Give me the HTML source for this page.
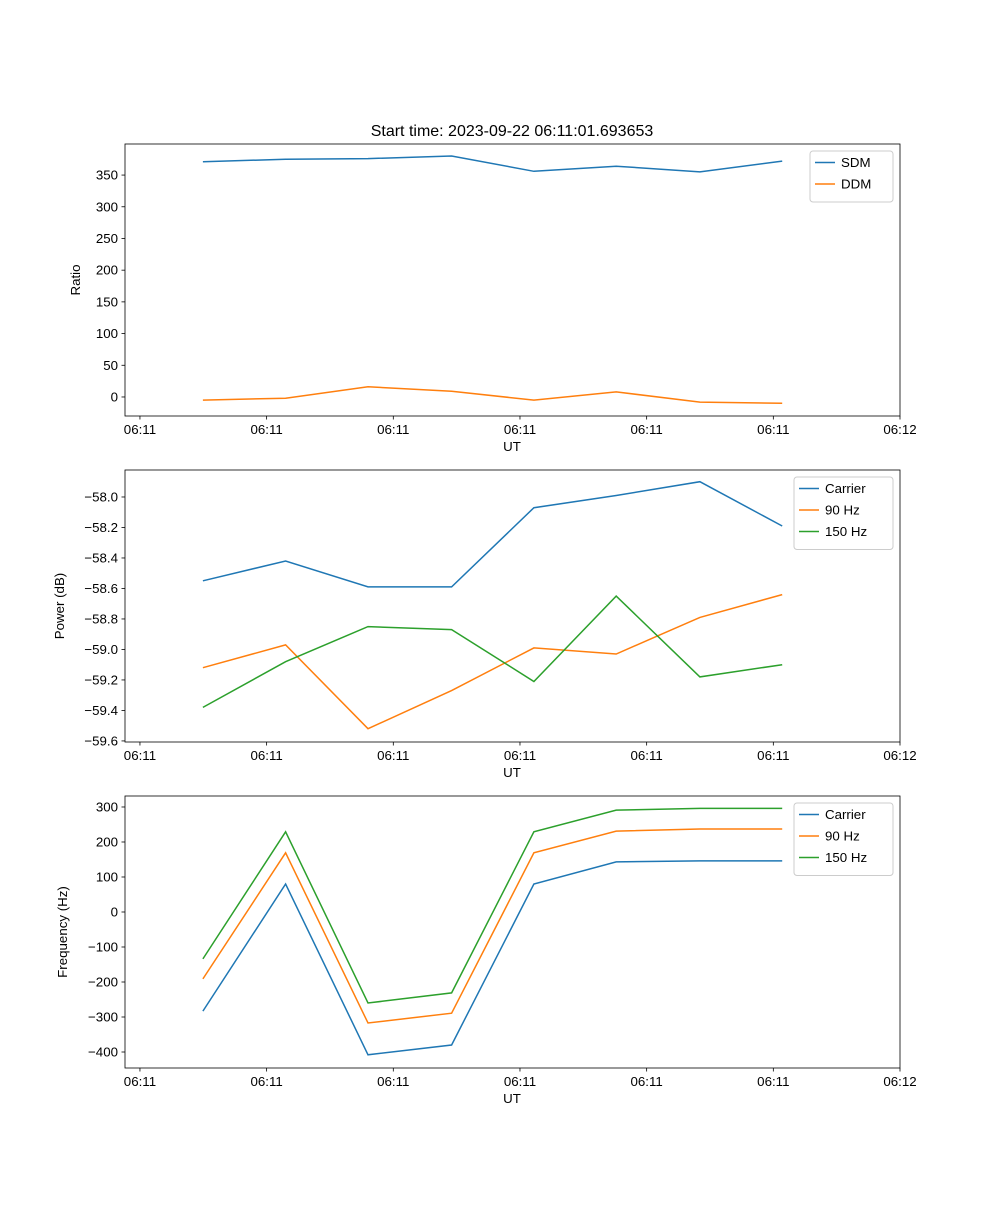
<!DOCTYPE html>
<html><head><meta charset="utf-8"><style>
body{margin:0;background:#fff;}
svg text{font-family:"Liberation Sans","DejaVu Sans",sans-serif;font-size:13.3px;fill:#000;}
</style></head><body>
<svg id="chart" width="1000" height="1200" xmlns="http://www.w3.org/2000/svg">
<text x="512" y="136" text-anchor="middle" style="font-size:16px">Start time: 2023-09-22 06:11:01.693653</text>
</svg>
<script>
const xTimes = [0.497, 1.15, 1.80, 2.46, 3.11, 3.76, 4.42, 5.07];
const xTickVals = [0, 1, 2, 3, 4, 5, 6];
const xTickLabels = ["06:11","06:11","06:11","06:11","06:11","06:11","06:12"];
const sdm = [371, 375, 376, 380, 356, 364, 355, 372];
const ddm = [-5, -2, 16, 9, -5, 8, -8, -10];
const pwrCarrier = [-58.55, -58.42, -58.59, -58.59, -58.07, -57.99, -57.90, -58.19];
const pwr90 = [-59.12, -58.97, -59.52, -59.27, -58.99, -59.03, -58.79, -58.64];
const pwr150 = [-59.38, -59.08, -58.85, -58.87, -59.21, -58.65, -59.18, -59.10];
const frqCarrier = [-283, 80, -408, -380, 80, 143, 146, 146];
const frq90 = [-191, 169, -317, -289, 169, 231, 237, 237];
const frq150 = [-134, 229, -260, -231, 229, 291, 296, 296];
const ratioTicks = [0, 50, 100, 150, 200, 250, 300, 350];
const powerTicks = [-59.6, -59.4, -59.2, -59.0, -58.8, -58.6, -58.4, -58.2, -58.0];
const freqTicks = [-400, -300, -200, -100, 0, 100, 200, 300];

const NS = "http://www.w3.org/2000/svg";
const svg = document.getElementById("chart");
const C = ["#1f77b4", "#ff7f0e", "#2ca02c"];
function mk(tag, attrs, parent) {
  const e = document.createElementNS(NS, tag);
  for (const k in attrs) e.setAttribute(k, attrs[k]);
  (parent || svg).appendChild(e);
  return e;
}
const X0 = 125, X1 = 900, XMIN = -0.118, XMAX = 6;
const xs = v => X0 + (v - XMIN) / (XMAX - XMIN) * (X1 - X0);

function panel(id, top, bottom, ymin, ymax, yticks, fmt, ylabel, ylabelX, series, names, legendX) {
  const g = mk("g", {});
  
  
  const ys = v => bottom - (v - ymin) / (ymax - ymin) * (bottom - top);
  series.forEach((s, i) => {
    const pts = s.map((v, j) => xs(xTimes[j]).toFixed(1) + "," + ys(v).toFixed(1)).join(" ");
    const p = mk("polyline", {points: pts, fill: "none", stroke: C[i], "stroke-width": 1.5}, g);
    
    
  });
  const fr = mk("rect", {x: X0, y: top, width: X1 - X0, height: bottom - top, fill: "none", stroke: "#000", "stroke-width": 0.8}, g);
  
  
  xTickVals.forEach((v, i) => {
    const x = xs(v);
    mk("line", {x1: x, x2: x, y1: bottom, y2: bottom + 3.5, stroke: "#000", "stroke-width": 0.8}, g);
    const t = mk("text", {x: x, y: bottom + 18, "text-anchor": "middle"}, g);
    t.textContent = xTickLabels[i];
    
    
  });
  const xl = mk("text", {x: 512, y: bottom + 35, "text-anchor": "middle"}, g);
  xl.textContent = "UT";
  
  
  yticks.forEach(v => {
    const y = ys(v);
    mk("line", {x1: X0 - 3.5, x2: X0, y1: y, y2: y, stroke: "#000", "stroke-width": 0.8}, g);
    const t = mk("text", {x: X0 - 7, y: y + 4.5, "text-anchor": "end"}, g);
    t.textContent = fmt(v);
    
    
  });
  const cy = (top + bottom) / 2;
  const yl = mk("text", {x: ylabelX, y: cy, "text-anchor": "middle", transform: "rotate(-90 " + ylabelX + " " + cy + ")"}, g);
  yl.textContent = ylabel;
  
  
  const lg = mk("g", {}, g);
  
  
  const lh = 8 + names.length * 21.5;
  mk("rect", {x: legendX, y: top + 7, width: 893 - legendX, height: lh, rx: 3, fill: "#fff", stroke: "#ccc", "stroke-width": 1}, lg);
  names.forEach((n, i) => {
    const y = top + 18.5 + i * 21.5;
    const e = mk("g", {}, lg);
    
    
    mk("line", {x1: legendX + 5, x2: legendX + 25, y1: y, y2: y, stroke: C[i], "stroke-width": 1.5}, e);
    const t = mk("text", {x: legendX + 31, y: y + 4.5}, e);
    t.textContent = n;
  });
}
panel("ratio", 144, 416, -30, 399, ratioTicks, v => String(v), "Ratio", 80, [sdm, ddm], ["SDM", "DDM"], 810);
panel("power", 470, 742, -59.607, -57.823, powerTicks, v => v.toFixed(1).replace("-", "\u2212"), "Power (dB)", 64, [pwrCarrier, pwr90, pwr150], ["Carrier", "90 Hz", "150 Hz"], 794);
panel("frequency", 796, 1068, -445.7, 331.4, freqTicks, v => String(v).replace("-", "\u2212"), "Frequency (Hz)", 67, [frqCarrier, frq90, frq150], ["Carrier", "90 Hz", "150 Hz"], 794);
</script>
</body></html>
